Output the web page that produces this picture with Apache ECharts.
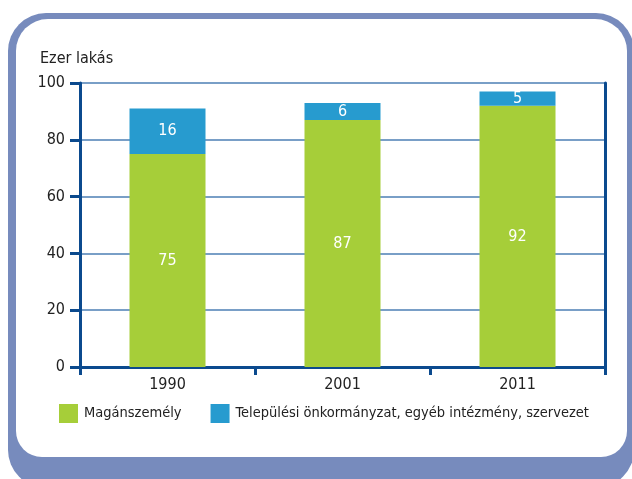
<!DOCTYPE html>
<html>
<head>
<meta charset="utf-8">
<script src="https://cdn.jsdelivr.net/npm/echarts@6/dist/echarts.min.js"></script>
<style>html,body{margin:0;padding:0;background:#fff;}#c{width:632px;height:479px;}</style>
</head>
<body>
<div id="c"></div>
<script>
var categories = ['1990', '2001', '2011'];
var privateOwners = [75, 87, 92];
var publicOwners = [16, 6, 5];
var seriesNames = ['Magánszemély', 'Települési önkormányzat, egyéb intézmény, szervezet'];
var yTicks = [0, 20, 40, 60, 80, 100];

var FONT = '"DejaVu Sans Condensed", "Liberation Sans Narrow", sans-serif';
var AXIS = '#0b4a8e';
var chart = echarts.init(document.getElementById('c'));
chart.setOption({
  animation: false,
  backgroundColor: '#fff',
  graphic: [
    { type: 'rect', z: -10, shape: { x: 8, y: 13, width: 626, height: 475, r: 38 }, style: { fill: '#778bbd' } },
    { type: 'rect', z: -9, shape: { x: 16, y: 19, width: 611, height: 438, r: [32, 32, 26, 26] }, style: { fill: '#fff' } }
  ],
  title: {
    text: 'Ezer lakás', left: 35, top: 46,
    textStyle: { fontFamily: FONT, fontSize: 16, fontWeight: 'normal', color: '#222' }
  },
  legend: {
    left: 59, top: 404, padding: 0, width: 570, itemWidth: 19, itemHeight: 19, itemGap: 29,
    icon: 'rect',
    textStyle: { fontFamily: FONT, fontSize: 14.5, color: '#222', padding: [0, 0, 0, 1] },
    data: seriesNames
  },
  grid: { left: 80, right: 27, top: 83, bottom: 112, containLabel: false },
  xAxis: [{
    type: 'category', data: categories, position: 'bottom',
    axisLine: { lineStyle: { color: AXIS, width: 3 } },
    axisTick: { show: true, alignWithLabel: false, length: 8, lineStyle: { color: AXIS, width: 3 } },
    axisLabel: { fontFamily: FONT, fontSize: 16, color: '#222', margin: 10 }
  }, {
    type: 'category', data: categories, position: 'top',
    axisLine: { lineStyle: { color: AXIS, width: 3 } },
    axisTick: { show: false }, axisLabel: { show: false }
  }],
  yAxis: [{
    type: 'value', min: 0, max: 100, interval: 20,
    axisLine: { show: true, lineStyle: { color: AXIS, width: 3 } },
    axisTick: { show: true, length: 10, lineStyle: { color: AXIS, width: 3 } },
    axisLabel: { fontFamily: FONT, fontSize: 16, color: '#222', margin: 15,
      formatter: function (v) { return yTicks.indexOf(v) >= 0 ? String(v) : ''; } },
    splitLine: { show: true, lineStyle: { color: '#4d7fb4', width: 1.5 } }
  }, {
    type: 'value', min: 0, max: 100, interval: 20, position: 'right',
    axisLine: { show: true, lineStyle: { color: AXIS, width: 3 } },
    axisTick: { show: false }, axisLabel: { show: false }, splitLine: { show: false }
  }],
  series: [{
    name: seriesNames[0], type: 'bar', stack: 'a', data: privateOwners, barWidth: 76,
    itemStyle: { color: '#a6ce39' },
    label: { show: true, position: 'inside', color: '#fff', fontFamily: FONT, fontSize: 16 }
  }, {
    name: seriesNames[1], type: 'bar', stack: 'a', data: publicOwners, barWidth: 76,
    itemStyle: { color: '#279bcf' },
    label: { show: true, position: 'inside', color: '#fff', fontFamily: FONT, fontSize: 16 }
  }]
});
</script>
</body>
</html>
